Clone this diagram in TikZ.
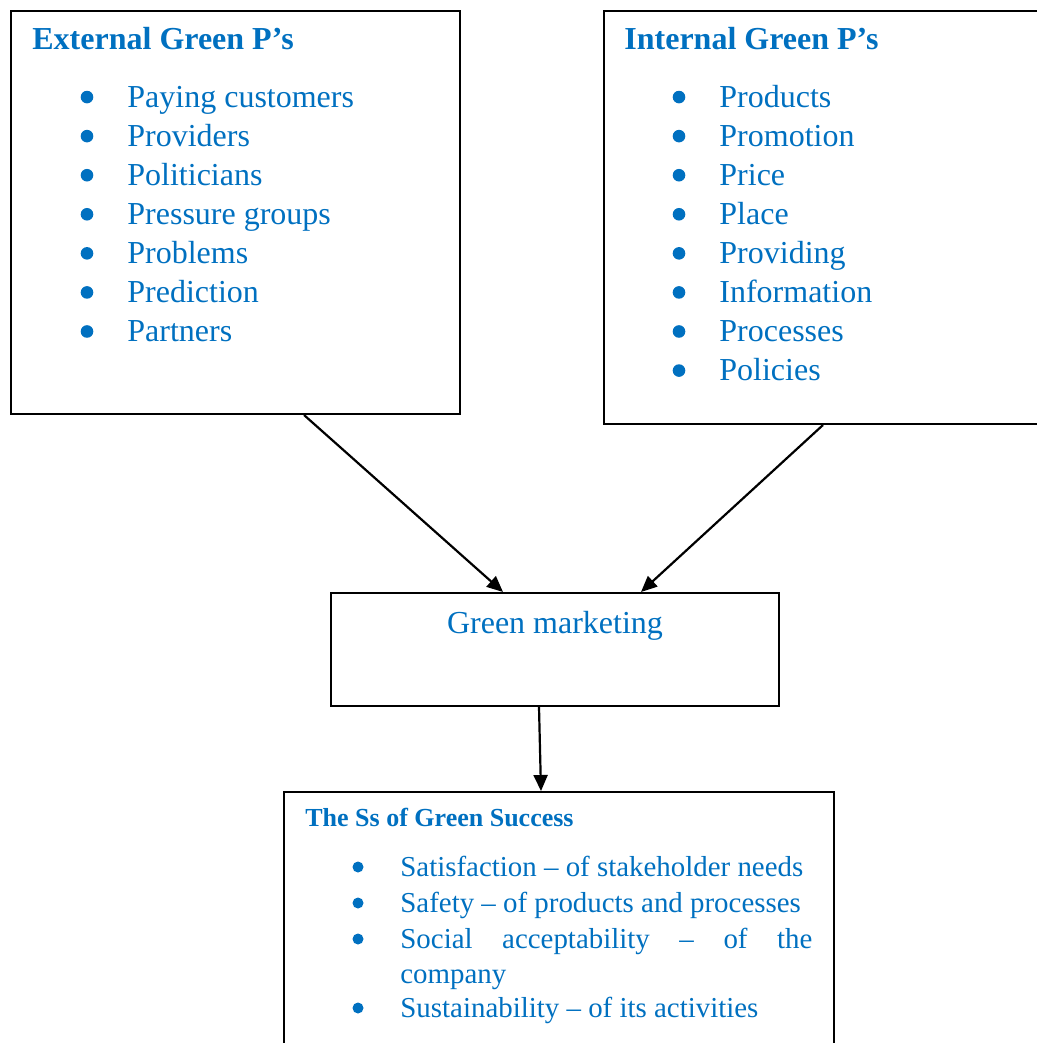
\documentclass[tikz,border=0pt]{standalone}
\usepackage{fontspec}
\setmainfont{Liberation Serif}
\usepackage{xcolor}
\usetikzlibrary{calc,arrows.meta}
\definecolor{wordblue}{HTML}{0070C0}

\begin{document}
\begin{tikzpicture}[
    x=0.5pt, y=-0.5pt,
    box/.style={draw, line width=1pt, inner sep=0pt, anchor=north west},
    head/.style={anchor=base west, inner sep=0pt, text=wordblue, font=\bfseries\fontsize{16}{19}\selectfont},
    item/.style={anchor=base west, inner sep=0pt, text=wordblue, font=\fontsize{16}{19}\selectfont},
    small/.style={item, font=\fontsize{14.45}{17.6}\selectfont},
    dot/.style={circle, fill=wordblue, inner sep=0pt, minimum size=6.3pt},
    arrow/.style={-{Triangle[length=8pt,width=7pt]}, line width=1.1pt}
  ]
    \clip (0,0) rectangle (1037,1043);
    \node[box, minimum width=224.5pt, minimum height=201.5pt] (ext) at (10,10) {};
    \node[box, minimum width=221pt, minimum height=206.5pt] (int) at (603,10) {};
    \node[box, minimum width=224pt, minimum height=56.5pt] (gm) at (330,592) {};
    \node[box, minimum width=275pt, minimum height=134.5pt] (ss) at (283,791) {};

    \node[head] (exth) at (32,50) {External Green P’s};
    \node[head] (inth) at (624,50) {Internal Green P’s};
    \node[head, font=\bfseries\fontsize{13}{15}\selectfont] (ssh) at (305,826) {The Ss of Green Success};
    \node[item, anchor=base] (gmt) at ($(gm.north)+(0,41)$) {Green marketing};

    \foreach \t [count=\i] in {Paying customers, Providers, Politicians, Pressure groups,
        Problems, Prediction, Partners} {
      \node[dot] (ed\i) at (87,{58+39.07*\i}) {};
      \node[item] (e\i) at (127,{68+39.07*\i}) {\t};
    }
    \foreach \t [count=\i] in {Products, Promotion, Price, Place, Providing,
        Information, Processes, Policies} {
      \node[dot] (id\i) at (679,{58+39.07*\i}) {};
      \node[item] (i\i) at (719,{68+39.07*\i}) {\t};
    }

    \foreach \y in {867,903,939,1008}
      \node[dot, minimum size=5.5pt] at (358,\y) {};
    \node[small] (s1) at (400,876) {Satisfaction \textendash{} of stakeholder needs};
    \node[small] (s2) at (400,912) {Safety \textendash{} of products and processes};
    \node[small, text width=206pt, align=justify] (s3) at (400,948)
      {Social acceptability \textendash{} of the \mbox{company}};
    \node[small] (s4) at (400,1017) {Sustainability \textendash{} of its activities};

    \draw[arrow] ($(ext.south west)+(294,0)$) -- ($(gm.north west)+(173,0)$);
    \draw[arrow] ($(int.south west)+(220,0)$) -- ($(gm.north west)+(311,0)$);
    \draw[arrow] ($(gm.south west)+(209,0)$) -- ($(ss.north west)+(258,0)$);
  \end{tikzpicture}
\end{document}
